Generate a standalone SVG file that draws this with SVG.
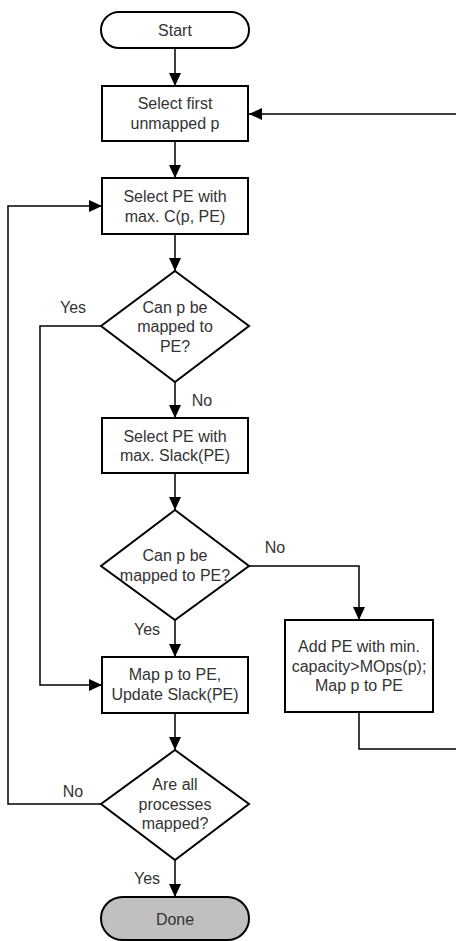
<svg xmlns="http://www.w3.org/2000/svg" width="456" height="941" viewBox="0 0 456 941">
<defs>
<marker id="ah" markerUnits="userSpaceOnUse" markerWidth="14" markerHeight="14" viewBox="0 0 14 14" refX="13" refY="7" orient="auto">
<path d="M0,1 L13,7 L0,13 Z" fill="#000"/>
</marker>
<style>
.s{fill:#fff;stroke:#000;stroke-width:2}
.d{fill:#c0c0c0;stroke:#000;stroke-width:2}
.c{fill:none;stroke:#000;stroke-width:1.5}
text{font-family:"Liberation Sans",Arial,sans-serif;font-size:16px;fill:#333;text-anchor:middle}
</style>
</defs>
<rect width="456" height="941" fill="#fff"/>
<g id="connectors">
<path class="c" d="M175,48 V86" marker-end="url(#ah)"/>
<path class="c" d="M175,141 V178" marker-end="url(#ah)"/>
<path class="c" d="M175,234 V271" marker-end="url(#ah)"/>
<path class="c" d="M175,382 V418" marker-end="url(#ah)"/>
<path class="c" d="M101,326 H40 V685 H102" marker-end="url(#ah)"/>
<path class="c" d="M175,473 V510" marker-end="url(#ah)"/>
<path class="c" d="M249,566 H359 V620" marker-end="url(#ah)"/>
<path class="c" d="M175,620 V657" marker-end="url(#ah)"/>
<path class="c" d="M175,713 V750" marker-end="url(#ah)"/>
<path class="c" d="M101,804 H8 V206 H102" marker-end="url(#ah)"/>
<path class="c" d="M175,860 V897" marker-end="url(#ah)"/>
<path class="c" d="M359,712 V749 H470 V114 H249" marker-end="url(#ah)"/>
<text x="73" y="313">Yes</text>
<text x="202" y="406">No</text>
<text x="275" y="553">No</text>
<text x="147" y="635">Yes</text>
<text x="73" y="797">No</text>
<text x="147" y="884">Yes</text>
</g>
<g id="start">
<rect class="s" x="101" y="12" width="148" height="36" rx="18"/>
<text x="175" y="36">Start</text>
</g>
<g id="select-first">
<rect class="s" x="102" y="86" width="146" height="55"/>
<text x="175" y="109">Select first</text>
<text x="175" y="129">unmapped p</text>
</g>
<g id="select-pe-c">
<rect class="s" x="102" y="178" width="146" height="56"/>
<text x="175" y="201.5">Select PE with</text>
<text x="175" y="221.5">max. C(p, PE)</text>
</g>
<g id="decision1">
<polygon class="s" points="175,271 249,326 175,382 101,326"/>
<text x="175" y="312.5">Can p be</text>
<text x="175" y="332">mapped to</text>
<text x="175" y="351.5">PE?</text>
</g>
<g id="select-pe-slack">
<rect class="s" x="102" y="418" width="146" height="55"/>
<text x="175" y="441.5">Select PE with</text>
<text x="175" y="461">max. Slack(PE)</text>
</g>
<g id="decision2">
<polygon class="s" points="175,510 249,566 175,620 101,566"/>
<text x="175" y="561">Can p be</text>
<text x="175" y="580.5">mapped to PE?</text>
</g>
<g id="add-pe">
<rect class="s" x="285" y="620" width="148" height="92"/>
<text x="359" y="652">Add PE with min.</text>
<text x="359" y="671.5">capacity&gt;MOps(p);</text>
<text x="359" y="691">Map p to PE</text>
</g>
<g id="map-p">
<rect class="s" x="102" y="657" width="146" height="56"/>
<text x="175" y="680">Map p to PE,</text>
<text x="175" y="700">Update Slack(PE)</text>
</g>
<g id="decision3">
<polygon class="s" points="175,750 249,804 175,860 101,804"/>
<text x="175" y="790">Are all</text>
<text x="175" y="809.5">processes</text>
<text x="175" y="829">mapped?</text>
</g>
<g id="done">
<rect class="d" x="101" y="897" width="148" height="43" rx="21.5"/>
<text x="175" y="924.5">Done</text>
</g>
</svg>
